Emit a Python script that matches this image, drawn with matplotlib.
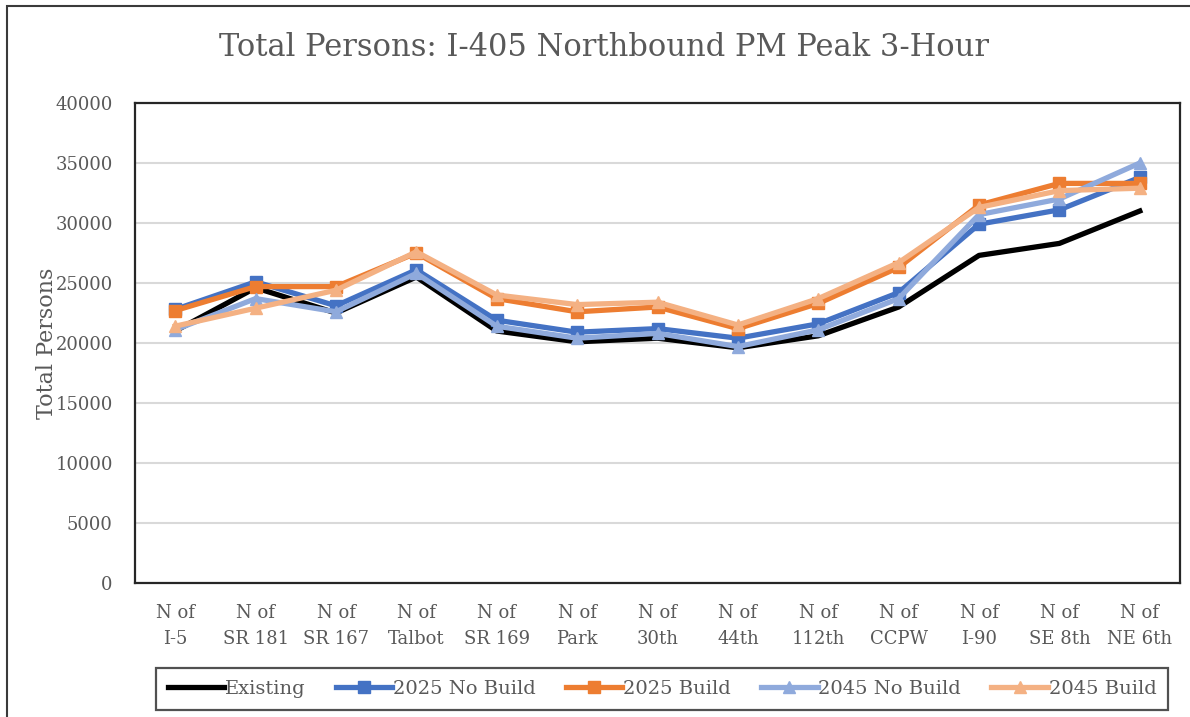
import matplotlib
matplotlib.use("Agg")
import matplotlib.pyplot as plt
from matplotlib.patches import Rectangle

categories = ["N of\nI-5", "N of\nSR 181", "N of\nSR 167", "N of\nTalbot", "N of\nSR 169",
              "N of\nPark", "N of\n30th", "N of\n44th", "N of\n112th", "N of\nCCPW",
              "N of\nI-90", "N of\nSE 8th", "N of\nNE 6th"]

existing = [21000, 24600, 22500, 25500, 21000, 20100, 20400, 19600, 20600, 23000, 27300, 28300, 31000]
nb_2025 = [22800, 25100, 23100, 26100, 21900, 20900, 21200, 20400, 21600, 24200, 29900, 31100, 33800]
b_2025 = [22700, 24700, 24700, 27500, 23700, 22600, 23000, 21200, 23300, 26300, 31500, 33300, 33300]
nb_2045 = [21100, 23700, 22600, 25800, 21400, 20400, 20800, 19700, 21100, 23700, 30700, 32000, 35000]
b_2045 = [21400, 22900, 24400, 27600, 24000, 23200, 23400, 21500, 23700, 26700, 31300, 32700, 32900]

series = [
    ("Existing", existing, "#000000", None),
    ("2025 No Build", nb_2025, "#4472C4", "s"),
    ("2025 Build", b_2025, "#ED7D31", "s"),
    ("2045 No Build", nb_2045, "#8FAADC", "^"),
    ("2045 Build", b_2045, "#F4B183", "^"),
]

plt.rcParams["font.family"] = ["DejaVu Serif"]
text_c = "#595959"

fig = plt.figure(figsize=(11.9, 7.17), dpi=100)
fig.patch.set_facecolor("white")

# outer chart border (only left/top visible in the crop)
fig.patches.append(Rectangle((7 / 1190, -0.05), 1.2, 1 - 6 / 717 + 0.05, transform=fig.transFigure,
                             fill=False, edgecolor="#3a3a3a", linewidth=1.5))

ax = fig.add_axes([135 / 1190, 134 / 717, 1045 / 1190, 480 / 717])
x = list(range(len(categories)))
for name, vals, col, mk in series:
    ax.plot(x, vals, color=col, linewidth=3.8, marker=mk, markersize=9,
            markeredgecolor=col, label=name, zorder=3)

ax.set_xlim(-0.5, len(categories) - 0.5)
ax.set_ylim(0, 40000)
ax.set_yticks(range(0, 40001, 5000))
ax.set_xticks(x)
ax.set_xticklabels(categories, fontsize=13, color=text_c, linespacing=1.6)
ax.tick_params(axis="y", labelsize=13, labelcolor=text_c, length=0, pad=16)
ax.tick_params(axis="x", length=0, pad=15)
ax.grid(axis="y", color="#d9d9d9", linewidth=1.5, zorder=0)
ax.set_axisbelow(True)
for sp in ax.spines.values():
    sp.set_color("#262626")
    sp.set_linewidth(1.6)

fig.text(47 / 1190, 1 - 343 / 717, "Total Persons", rotation=90, ha="center", va="center",
         fontsize=16, color=text_c)
fig.text(604 / 1190, 1 - 47 / 717, "Total Persons: I-405 Northbound PM Peak 3-Hour",
         ha="center", va="center", fontsize=22, color=text_c)

leg = fig.legend(loc="center", bbox_to_anchor=(662 / 1190, 1 - 689 / 717), ncol=5,
                 fontsize=14, frameon=True, fancybox=False, edgecolor="#262626",
                 handlelength=2.9, columnspacing=1.55, handletextpad=0.05, borderpad=0.6)
leg.get_frame().set_linewidth(1.6)
for t in leg.get_texts():
    t.set_color(text_c)

fig.savefig("out.png", dpi=100, facecolor="white")
